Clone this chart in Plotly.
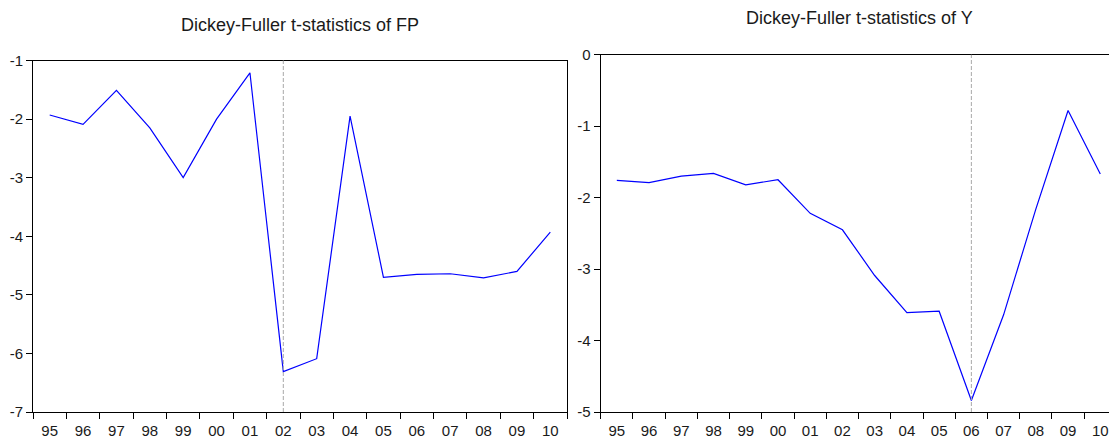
import plotly.graph_objects as go

years = ["95", "96", "97", "98", "99", "00", "01", "02", "03", "04", "05", "06", "07", "08", "09", "10"]
fp_stats = [-1.93, -2.09, -1.51, -2.15, -3.00, -2.00, -1.21, -6.31, -6.09, -1.95, -4.70, -4.65, -4.64, -4.71, -4.60, -3.93]
y_stats = [-1.76, -1.79, -1.70, -1.66, -1.82, -1.75, -2.22, -2.45, -3.09, -3.61, -3.59, -4.84, -3.64, -2.16, -0.78, -1.67]
fp_break = "02"
y_break = "06"
fp_ticks = [-1, -2, -3, -4, -5, -6, -7]
y_ticks = [0, -1, -2, -3, -4, -5]
title_fp = "Dickey-Fuller t-statistics of FP"
title_y = "Dickey-Fuller t-statistics of Y"

W, H = 1109, 440
FONT = "Liberation Sans, Arial, sans-serif"
TICK_SIZE = 15
TITLE_SIZE = 18

def px_x(p):
    return p / W

def px_y(p):
    return (H - p) / H

def lab(v):
    return str(v).replace("\u2212", "-")

idx = list(range(len(years)))

fig = go.Figure()
fig.add_trace(go.Scatter(x=idx, y=fp_stats, mode="lines",
                         line=dict(color="#0000ff", width=1.2),
                         xaxis="x", yaxis="y", showlegend=False))
fig.add_trace(go.Scatter(x=idx, y=y_stats, mode="lines",
                         line=dict(color="#0000ff", width=1.2),
                         xaxis="x2", yaxis="y2", showlegend=False))
fig.add_trace(go.Scatter(x=[None], y=[None], xaxis="x3", yaxis="y", showlegend=False, hoverinfo="skip"))
fig.add_trace(go.Scatter(x=[None], y=[None], xaxis="x4", yaxis="y2", showlegend=False, hoverinfo="skip"))

yaxis_common = dict(showline=True, linecolor="black", linewidth=1, mirror=True,
                    ticks="outside", ticklen=6, tickcolor="black", tickwidth=1,
                    showgrid=False, zeroline=False, automargin=False,
                    tickfont=dict(family=FONT, size=TICK_SIZE, color="#1a1a1a"))

def xaxis_labels(domain, rng, anchor):
    return dict(domain=domain, anchor=anchor, range=rng,
                tickmode="array", tickvals=idx, ticktext=years,
                showline=True, linecolor="black", linewidth=1, mirror=True,
                ticks="", showgrid=False, zeroline=False, automargin=False,
                tickfont=dict(family=FONT, size=TICK_SIZE, color="#1a1a1a"), ticklabelstandoff=5)

def xaxis_ticks(domain, rng, anchor, over):
    return dict(domain=domain, anchor=anchor, range=rng, overlaying=over,
                tickmode="array", tickvals=[i - 0.5 for i in range(len(years) + 1)],
                ticktext=[""] * (len(years) + 1), side="bottom",
                ticks="outside", ticklen=6, tickcolor="black", tickwidth=1,
                showline=False, showgrid=False, zeroline=False, automargin=False)

d1 = [px_x(33), px_x(567)]
d2 = [px_x(600.7), 1.0]
r1 = [-0.5, 15.5]
r2 = [-0.5, 15.27]

fig.update_layout(
    template="none",
    width=W, height=H,
    margin=dict(l=0, r=0, t=0, b=0, pad=0),
    paper_bgcolor="white", plot_bgcolor="white",
    xaxis=xaxis_labels(d1, r1, "y"),
    xaxis3=xaxis_ticks(d1, r1, "y", "x"),
    yaxis=dict(domain=[px_y(412), px_y(60.5)], anchor="x", range=[-7, -1],
               tickmode="array", tickvals=fp_ticks, ticktext=[lab(v) for v in fp_ticks], **yaxis_common),
    xaxis2=xaxis_labels(d2, r2, "y2"),
    xaxis4=xaxis_ticks(d2, r2, "y2", "x2"),
    yaxis2=dict(domain=[px_y(412), px_y(54.7)], anchor="x2", range=[-5, 0],
                tickmode="array", tickvals=y_ticks, ticktext=[lab(v) for v in y_ticks], **yaxis_common),
)

fig.add_shape(type="line", xref="x", yref="y domain", x0=years.index(fp_break), x1=years.index(fp_break),
              y0=0, y1=1, line=dict(color="#a8a8a8", width=1, dash="4px,2px"))
fig.add_shape(type="line", xref="x2", yref="y2 domain", x0=years.index(y_break), x1=years.index(y_break),
              y0=0, y1=1, line=dict(color="#a8a8a8", width=1, dash="4px,2px"))

fig.add_annotation(text=title_fp, xref="paper", yref="paper", x=px_x(300), y=px_y(25),
                   showarrow=False, xanchor="center", yanchor="middle",
                   font=dict(family=FONT, size=TITLE_SIZE, color="#1a1a1a"))
fig.add_annotation(text=title_y, xref="paper", yref="paper", x=px_x(859), y=px_y(18),
                   showarrow=False, xanchor="center", yanchor="middle",
                   font=dict(family=FONT, size=TITLE_SIZE, color="#1a1a1a"))

fig.write_html("out.html", config={"displayModeBar": False},
               post_script="document.body.style.margin='0';document.body.style.overflow='hidden';")
